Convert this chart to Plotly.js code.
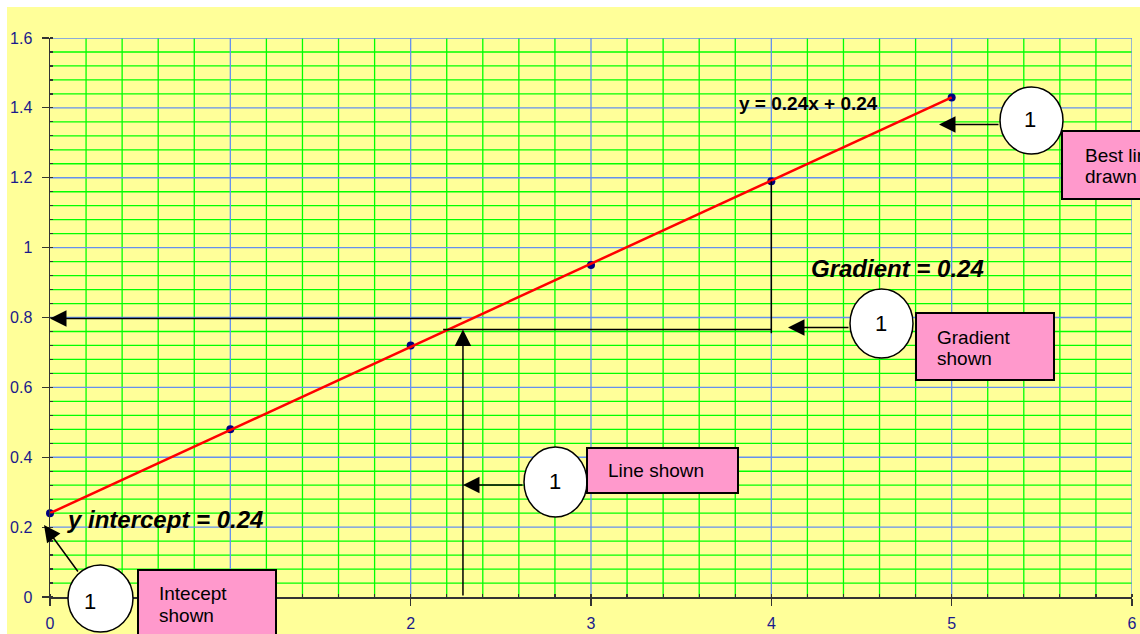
<!DOCTYPE html>
<html>
<head>
<meta charset="utf-8">
<script src="https://cdn.plot.ly/plotly-3.0.1.min.js"></script>
<style>
  html, body { margin: 0; padding: 0; background: #ffffff; }
  #chart { position: absolute; left: 7px; top: 7px; width: 1133px; height: 627px; }
</style>
</head>
<body>
<div id="chart"></div>
<script>
// ---- data ----
const xValues = [0, 1, 2, 3, 4, 5];
const yValues = [0.24, 0.48, 0.72, 0.95, 1.19, 1.43];
const trendX = [0, 5];
const trendY = [0.24, 1.43];
const equationText = 'y = 0.24x + 0.24';
const gradientText = 'Gradient = 0.24';
const interceptText = 'y intercept = 0.24';
const readY = 0.797;      // value
const readX = 2.29;       // x where the line is read
const triBaseY = 0.766;   // gradient triangle base
const triLeftX = 2.18;
const triRightX = 4;
const triTopY = 1.19;
const triBottomY = 0.755;

// ---- axis settings ----
const xRange = [0, 6], xMajor = 1, xMinor = 0.2;
const yRange = [0, 1.6], yMajor = 0.2, yMinor = 0.04;

// ---- layout geometry (page pixels -> paper) ----
const W = 1133, H = 627;
const M = {l: 43, r: 8, t: 31, b: 37};
const OFF = 7;
const plotW = W - M.l - M.r, plotH = H - M.t - M.b;
const px = X => (X - OFF - M.l) / plotW;
const py = Y => (H - M.b - (Y - OFF)) / plotH;

const FONT = 'Liberation Sans, Arial, Helvetica, sans-serif';
const GREEN = '#00ff00', BLUE = '#6490f0';
const shapes = [];
const annotations = [];

// ---- grid (green minor, blue major) ----
function gridLine(axis, v, color) {
  if (axis === 'x') {
    shapes.push({type: 'line', layer: 'below', xref: 'x', yref: 'y',
      x0: v, x1: v, y0: yRange[0], y1: yRange[1], line: {color: color, width: 1.3}});
  } else {
    shapes.push({type: 'line', layer: 'below', xref: 'x', yref: 'y',
      x0: xRange[0], x1: xRange[1], y0: v, y1: v, line: {color: color, width: 1.3}});
  }
}
const nxMinor = Math.round((xRange[1] - xRange[0]) / xMinor);
for (let i = 1; i <= nxMinor; i++) {
  const v = xRange[0] + i * xMinor;
  if (i % Math.round(xMajor / xMinor) !== 0) gridLine('x', v, GREEN);
}
const nyMinor = Math.round((yRange[1] - yRange[0]) / yMinor);
for (let i = 1; i <= nyMinor; i++) {
  const v = yRange[0] + i * yMinor;
  if (i % Math.round(yMajor / yMinor) !== 0) gridLine('y', v, GREEN);
}
for (let i = 1; i <= Math.round((xRange[1] - xRange[0]) / xMajor); i++) gridLine('x', xRange[0] + i * xMajor, BLUE);
for (let i = 1; i <= Math.round((yRange[1] - yRange[0]) / yMajor); i++) gridLine('y', yRange[0] + i * yMajor, BLUE);

function circle(x0, y0, x1, y1) {
  shapes.push({type: 'circle', xref: 'paper', yref: 'paper',
    x0: px(x0), x1: px(x1), y0: py(y1), y1: py(y0),
    fillcolor: '#ffffff', line: {color: '#000000', width: 1.5}});
}
function box(x0, y0, x1, y1) {
  shapes.push({type: 'rect', xref: 'paper', yref: 'paper',
    x0: px(x0), x1: px(x1), y0: py(y1), y1: py(y0),
    fillcolor: '#ff99cc', line: {color: '#000000', width: 2}});
}
function label(text, X, Y, size, anchor) {
  annotations.push({xref: 'paper', yref: 'paper', x: px(X), y: py(Y),
    xanchor: anchor || 'center', yanchor: 'middle', showarrow: false,
    text: text, font: {family: FONT, size: size, color: '#000000'}});
}
function arrowPx(tipX, tipY, tailX, tailY) {
  annotations.push({xref: 'paper', yref: 'paper', x: px(tipX), y: py(tipY),
    ax: tailX - tipX, ay: tailY - tipY, text: '', showarrow: true,
    arrowhead: 2, arrowsize: 2.2, arrowwidth: 1.5, arrowcolor: '#000000',
    standoff: 0, startstandoff: 0});
}
function arrowData(tipX, tipY, tailX, tailY) {
  annotations.push({xref: 'x', yref: 'y', axref: 'x', ayref: 'y',
    x: tipX, y: tipY, ax: tailX, ay: tailY, text: '', showarrow: true,
    arrowhead: 2, arrowsize: 2.2, arrowwidth: 1.5, arrowcolor: '#000000',
    standoff: 0, startstandoff: 0});
}

// guide lines (data coordinates)
shapes.push({type: 'line', xref: 'x', yref: 'y', x0: triLeftX, x1: triRightX, y0: triBaseY, y1: triBaseY,
  line: {color: '#000000', width: 1.5}});
shapes.push({type: 'line', xref: 'x', yref: 'y', x0: triRightX, x1: triRightX, y0: triBottomY, y1: triTopY,
  line: {color: '#000000', width: 1.5}});
arrowData(0, readY, readX, readY);
arrowData(readX, triBaseY, readX, 0);

// callouts
circle(1000, 87, 1063, 154);
circle(850, 289, 913, 358);
circle(524, 447, 587, 517);
circle(68, 565, 133, 632);
box(1062, 131, 1160, 199);
box(916, 313, 1054, 380);
box(587, 448, 738, 493);
box(138, 570, 276, 650);

label('1', 1030, 120, 22);
label('1', 881, 323, 22);
label('1', 555, 481, 22);
label('1', 90, 601, 22);

label('Best line', 1083, 155, 19, 'left');
label('drawn', 1083, 177, 19, 'left');
label('Gradient', 935, 337, 19, 'left');
label('shown', 935, 358, 19, 'left');
label('Line shown', 606, 470, 19, 'left');
label('Intecept', 157, 593, 19, 'left');
label('shown', 157, 615, 19, 'left');

arrowPx(939, 124.5, 1000, 124.5);
arrowPx(788, 327.5, 850, 327.5);
arrowPx(463, 485, 524, 485);
arrowPx(44, 525, 79, 573);

label('<b>' + equationText + '</b>', 808, 103.5, 19);
label('<b><i>' + gradientText + '</i></b>', 897.5, 268, 24);
label('<b><i>' + interceptText + '</i></b>', 165, 519.5, 24);

const traces = [
  {x: xValues, y: yValues, type: 'scatter', mode: 'markers',
   marker: {color: '#000080', size: 8}, hoverinfo: 'x+y', cliponaxis: false},
  {x: trendX, y: trendY, type: 'scatter', mode: 'lines',
   line: {color: '#ff0000', width: 2.5}, hoverinfo: 'skip'}
];

const axisCommon = {
  showline: true, linecolor: '#333333', linewidth: 1.5,
  showgrid: false, zeroline: false,
  ticks: 'outside', ticklen: 7, tickwidth: 1.2, tickcolor: '#333333',
  tickfont: {family: FONT, size: 16, color: '#1a1a8c'},
  fixedrange: true
};

const layout = {
  width: W, height: H,
  margin: M,
  paper_bgcolor: '#ffff99',
  plot_bgcolor: '#ffff99',
  showlegend: false,
  xaxis: Object.assign({}, axisCommon, {
    range: xRange, dtick: xMajor, tick0: 0, ticklabelstandoff: 4,
    minor: {dtick: xMinor, showgrid: false, ticks: 'inside', ticklen: 3, tickcolor: '#333333'}
  }),
  yaxis: Object.assign({}, axisCommon, {
    range: yRange, dtick: yMajor, tick0: 0, ticklabelstandoff: 6,
    minor: {dtick: yMinor, showgrid: false, ticks: 'inside', ticklen: 3, tickcolor: '#333333'}
  }),
  shapes: shapes,
  annotations: annotations
};

Plotly.newPlot('chart', traces, layout, {displayModeBar: false, staticPlot: true});
</script>
</body>
</html>
